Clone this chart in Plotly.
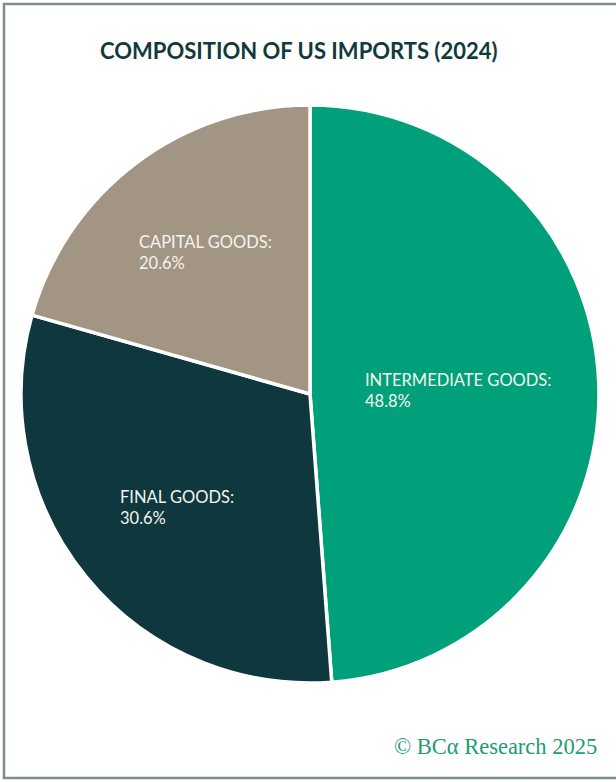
import plotly.graph_objects as go

categories = ["INTERMEDIATE GOODS", "FINAL GOODS", "CAPITAL GOODS"]
shares = [48.8, 30.6, 20.6]
colors = ["#00A07A", "#0E383D", "#A39583"]
title_text = "COMPOSITION OF US IMPORTS (2024)"
source_text = "© BCα Research 2025"

W, H = 616, 782
cx, cy, r = 310, 394, 289

fig = go.Figure(go.Pie(
    labels=categories,
    values=shares,
    sort=False,
    direction="clockwise",
    rotation=0,
    marker=dict(colors=colors, line=dict(color="white", width=3.5)),
    textinfo="none",
    hoverinfo="label+percent",
    showlegend=False,
    domain=dict(x=[(cx - r) / W, (cx + r) / W], y=[1 - (cy + r) / H, 1 - (cy - r) / H]),
))

# label anchor positions (left, top of first line) in pixels
label_pos = {"INTERMEDIATE GOODS": (363, 368), "FINAL GOODS": (118, 485), "CAPITAL GOODS": (137, 230)}
for cat, val in zip(categories, shares):
    lx, ly = label_pos[cat]
    fig.add_annotation(
        x=lx / W, y=1 - ly / H, xref="paper", yref="paper",
        xanchor="left", yanchor="top", align="left", showarrow=False,
        text=f"{cat}:<br>{val:.1f}%",
        font=dict(family="Lato", size=16.5, color="#F4F4F0"),
    )

fig.add_annotation(
    x=298 / W, y=1 - 51 / H, xref="paper", yref="paper", showarrow=False,
    xanchor="center", yanchor="middle",
    text=f"<b>{title_text}</b>",
    font=dict(family="Lato", size=22, color="#123A3C"),
)
fig.add_annotation(
    x=599 / W, y=1 - 746 / H, xref="paper", yref="paper", showarrow=False,
    xanchor="right", yanchor="middle",
    text=source_text,
    font=dict(family="Liberation Serif", size=22.5, color="#1E9C78"),
)

fig.add_shape(type="rect", xref="paper", yref="paper",
              x0=4 / W, x1=630 / W, y0=1 - 778 / H, y1=1 - 4 / H,
              line=dict(color="#7E8C8E", width=2.5), fillcolor="rgba(0,0,0,0)")

fig.update_layout(
    width=W, height=H,
    margin=dict(l=0, r=0, t=0, b=0),
    paper_bgcolor="white", plot_bgcolor="white",
)

fig.write_html("out.html", config={"displayModeBar": False},
               post_script="document.body.style.margin='0';document.body.style.overflow='hidden';")
